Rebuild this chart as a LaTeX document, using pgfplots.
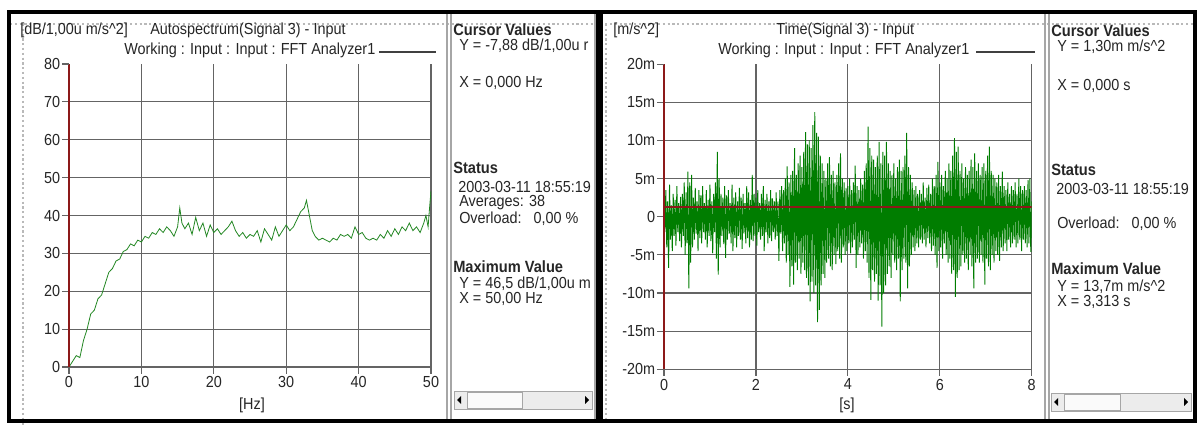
\documentclass[border=0pt]{standalone}
\usepackage{fontspec}
\setmainfont{Liberation Sans}[FakeStretch=0.9]
\usepackage{pgfplots}
\pgfplotsset{compat=1.18}
\definecolor{cur}{RGB}{140,25,25}
\definecolor{grd}{RGB}{100,100,100}
\definecolor{sig}{RGB}{0,125,0}
\definecolor{spec}{RGB}{35,135,35}
\newcommand{\tf}{\fontsize{12}{13}\selectfont}
\newcommand{\hf}{\fontsize{12.2}{14}\selectfont\bfseries}
\pgfplotsset{
  common/.style={
    scale only axis, anchor=south west,
    axis x line=bottom, axis y line=left, axis line style={-},
    x axis line style={grd, line width=1pt},
    y axis line style={cur, line width=1.3pt},
    grid=major, major grid style={grd, line width=0.9pt},
    tick align=outside, major tick length=5pt,
    tick style={grd, line width=0.9pt},
    ticklabel style={font=\tf, text=black!85},
    yticklabel style={inner sep=1.5pt},
    xticklabel style={inner sep=2pt},
    /pgf/number format/assume math mode=true,
    extra y tick style={grid=none},
  }
}
\begin{document}
\begin{tikzpicture}
\useasboundingbox (0,0) rectangle (900pt,-320.25pt);
\begin{scope}[x=0.75pt,y=-0.75pt]
  \fill[white] (0,0) rectangle (1200,427);
  \draw[gray!55, dotted, line width=1.6pt] (10,24) -- (1195,24);
  \draw[gray!55, dotted, line width=1.6pt] (23,24) -- (23,427);
  \draw[gray!55, dotted, line width=1.6pt] (606,24) -- (606,420);
  \draw[gray!70, line width=1pt] (447,13) -- (447,420);
  \draw[gray!70, line width=1pt] (451,13) -- (451,420);
  \draw[gray!70, line width=1pt] (595,13) -- (595,420);
  \draw[gray!70, line width=1pt] (1045,13) -- (1045,420);
  \draw[gray!70, line width=1pt] (1049,13) -- (1049,420);
  \draw[black, line width=2.6pt] (9,12) rectangle (598,421);
  \draw[black, line width=2.6pt] (601,12) rectangle (1195,421);
\end{scope}

% ---------------- left: autospectrum ----------------
\begin{axis}[common,
  at={(51.75pt,-275.25pt)}, width=271.5pt, height=227.25pt,
  xmin=0, xmax=50, ymin=0, ymax=80,
  xtick={0,10,...,50}, ytick={0,10,...,70}, extra y ticks={80},
]
\addplot[spec, line width=0.6pt] coordinates {
(0,0) (0.5,1.5) (1,3) (1.5,2.5) (2,7) (2.5,10) (3,14) (3.5,15) (4,18) (4.5,19)
(5,22) (5.5,25) (6,26) (6.5,28) (7,28.5) (7.5,30.5) (8,31) (8.5,32.5) (9,32) (9.5,33.5)
(10,33) (10.5,34.5) (11,34) (11.5,35.5) (12,35) (12.5,36.5) (13,35.5) (13.5,37) (14,36) (14.5,34.5)
(15,37) (15.3,42) (15.6,38) (16,36.5) (16.5,38) (17,35) (17.5,39.5) (18,36) (18.5,38) (19,34.5)
(19.5,37.5) (20,35.5) (20.5,36.5) (21,35) (21.5,36) (22,37) (22.5,38.5) (23,36) (23.5,34.5) (24,35.5)
(24.5,34) (25,35) (25.5,34.5) (26,36) (26.5,33) (27,36.5) (27.5,35) (28,33.5) (28.5,37) (29,34.5)
(29.5,36) (30,37.5) (30.5,36) (31,37) (31.5,39) (32,41) (32.5,42) (32.8,44) (33.2,40) (33.6,36)
(34,34.5) (34.5,33.5) (35,34) (35.5,33.5) (36,33) (36.5,34) (37,33.5) (37.5,35) (38,34.5) (38.5,35)
(39,34) (39.5,37) (40,35) (40.5,35.5) (41,34) (41.5,33.5) (42,34) (42.5,33.5) (43,35) (43.5,34)
(44,36) (44.5,34.5) (45,36.5) (45.5,35) (46,37) (46.5,36) (47,38) (47.5,36) (48,37) (48.5,35.5)
(49,38) (49.3,40) (49.6,37) (49.8,42) (50,46.5)
};
\draw[cur, line width=1.3pt] (axis cs:0,0) -- (axis cs:0,80);
\end{axis}

% ---------------- right: time signal ----------------
\begin{axis}[common,
  at={(498pt,-276.975pt)}, width=275.775pt, height=228.83pt,
  xmin=0, xmax=8, ymin=-20, ymax=20,
  xtick={0,2,...,8}, ytick={-20,-15,...,15},
  yticklabels={-20m,-15m,-10m,-5m,0,5m,10m,15m},
  extra y ticks={20}, extra y tick labels={20m},
]
\addplot[sig, line width=0.7pt, line join=bevel] table[row sep=\\, header=false, x expr=\coordindex*0.02, y index=0] {
2.5\\ -2.0\\ 3.5\\ -4.0\\ 2.0\\ -6.7\\ 4.2\\ -3.0\\ 1.5\\ -4.5\\ 3.0\\ -2.5\\ 2.2\\ -3.8\\ 4.0\\ -2.0\\ 1.8\\ -3.2\\ 2.6\\ -4.0\\
3.0\\ -2.5\\ 4.5\\ -5.0\\ 3.2\\ -3.5\\ 5.9\\ -9.4\\ 4.5\\ -6.0\\ 5.5\\ -4.0\\ 2.5\\ -3.0\\ 3.8\\ -2.2\\ 2.0\\ -4.5\\ 3.5\\ -2.8\\
2.8\\ -3.5\\ 4.0\\ -2.0\\ 1.8\\ -3.0\\ 3.5\\ -4.0\\ 2.2\\ -2.5\\ 4.2\\ -3.2\\ 2.0\\ -4.8\\ 3.0\\ -2.0\\ 4.5\\ -5.5\\ 8.5\\ -7.6\\
5.0\\ -4.0\\ 3.0\\ -2.5\\ 2.5\\ -3.6\\ 4.0\\ -5.4\\ 2.8\\ -3.0\\ 3.5\\ -2.2\\ 1.8\\ -3.5\\ 4.2\\ -4.5\\ 2.5\\ -2.8\\ 3.2\\ -4.0\\
2.0\\ -2.5\\ 3.8\\ -3.0\\ 2.5\\ -4.2\\ 3.0\\ -2.2\\ 1.8\\ -3.5\\ 4.0\\ -2.8\\ 3.2\\ -4.0\\ 2.2\\ -3.0\\ 5.5\\ -3.2\\ 3.0\\ -2.5\\
2.5\\ -3.8\\ 3.5\\ -2.0\\ 1.8\\ -3.0\\ 3.0\\ -2.5\\ 4.0\\ -4.5\\ 2.2\\ -2.0\\ 3.0\\ -3.5\\ 2.0\\ -2.8\\ 3.5\\ -3.2\\ 2.4\\ -2.0\\
2.0\\ -3.0\\ 3.2\\ -2.5\\ 2.0\\ -5.8\\ 3.5\\ -2.2\\ 4.0\\ -4.5\\ 3.5\\ -3.5\\ 5.0\\ -6.0\\ 6.6\\ -5.0\\ 4.5\\ -9.2\\ 5.5\\ -6.5\\
6.0\\ -8.9\\ 9.0\\ -6.0\\ 5.5\\ -7.0\\ 7.0\\ -5.5\\ 8.0\\ -7.5\\ 6.5\\ -6.0\\ 8.5\\ -7.0\\ 11.1\\ -8.0\\ 9.5\\ -9.0\\ 10.0\\ -11.1\\
9.0\\ -8.5\\ 12.0\\ -10.0\\ 13.7\\ -9.0\\ 11.0\\ -13.8\\ 10.5\\ -12.2\\ 8.0\\ -9.0\\ 7.0\\ -7.5\\ 6.0\\ -8.0\\ 5.0\\ -6.0\\ 7.0\\ -5.5\\
7.8\\ -6.5\\ 5.5\\ -7.0\\ 6.0\\ -5.0\\ 4.5\\ -6.2\\ 5.5\\ -4.5\\ 7.0\\ -5.5\\ 8.3\\ -6.0\\ 5.0\\ -4.0\\ 4.5\\ -5.0\\ 3.8\\ -4.5\\
4.0\\ -3.5\\ 5.0\\ -4.8\\ 3.5\\ -4.0\\ 4.5\\ -3.0\\ 6.7\\ -6.7\\ 4.0\\ -5.0\\ 3.5\\ -4.0\\ 5.0\\ -3.5\\ 4.2\\ -5.5\\ 6.0\\ -4.5\\
7.0\\ -6.0\\ 11.8\\ -8.0\\ 9.0\\ -10.9\\ 8.0\\ -7.0\\ 7.5\\ -8.5\\ 6.5\\ -7.5\\ 8.0\\ -11.0\\ 9.8\\ -9.0\\ 7.0\\ -14.4\\ 8.5\\ -10.0\\
8.0\\ -9.0\\ 9.8\\ -7.5\\ 7.0\\ -6.5\\ 6.0\\ -8.0\\ 5.5\\ -5.0\\ 7.0\\ -6.0\\ 5.0\\ -7.0\\ 6.5\\ -5.5\\ 7.5\\ -11.1\\ 6.0\\ -7.0\\
6.5\\ -5.5\\ 8.0\\ -6.0\\ 11.0\\ -9.4\\ 6.5\\ -6.5\\ 5.5\\ -5.0\\ 4.5\\ -4.0\\ 3.5\\ -4.5\\ 4.0\\ -3.5\\ 3.0\\ -4.0\\ 3.5\\ -3.0\\
3.0\\ -3.5\\ 4.5\\ -3.0\\ 2.5\\ -4.0\\ 3.8\\ -2.8\\ 4.2\\ -3.5\\ 3.0\\ -4.5\\ 5.0\\ -3.8\\ 4.0\\ -5.0\\ 5.5\\ -6.7\\ 7.2\\ -4.5\\
4.5\\ -4.0\\ 5.5\\ -5.5\\ 4.0\\ -3.5\\ 6.0\\ -5.0\\ 5.0\\ -6.0\\ 7.0\\ -5.5\\ 6.0\\ -7.5\\ 8.0\\ -7.0\\ 10.3\\ -10.5\\ 8.5\\ -8.0\\
9.2\\ -7.0\\ 6.0\\ -6.5\\ 7.0\\ -5.0\\ 5.0\\ -6.0\\ 6.5\\ -5.5\\ 5.5\\ -7.0\\ 6.0\\ -5.0\\ 7.5\\ -6.5\\ 6.5\\ -9.4\\ 8.3\\ -6.0\\
6.0\\ -5.5\\ 7.0\\ -6.0\\ 5.5\\ -5.0\\ 6.5\\ -6.0\\ 7.0\\ -8.9\\ 6.0\\ -5.5\\ 8.0\\ -6.5\\ 9.2\\ -7.0\\ 6.0\\ -5.0\\ 5.5\\ -6.0\\
5.0\\ -4.5\\ 4.5\\ -5.0\\ 5.5\\ -5.8\\ 4.0\\ -4.0\\ 5.9\\ -4.5\\ 4.0\\ -3.5\\ 3.5\\ -4.5\\ 4.5\\ -3.0\\ 3.0\\ -4.0\\ 4.0\\ -3.5\\
3.5\\ -3.0\\ 4.5\\ -4.0\\ 3.0\\ -3.5\\ 5.0\\ -3.0\\ 4.0\\ -4.5\\ 3.5\\ -3.0\\ 4.0\\ -3.5\\ 3.5\\ -4.0\\ 4.8\\ -3.5\\ 5.0\\ -4.6\\
2.0\\
};
\draw[cur, line width=1.1pt] (axis cs:0,1.3) -- (axis cs:8,1.3);
\draw[cur, line width=1.3pt] (axis cs:0,-20) -- (axis cs:0,20);
\end{axis}

% ---------------- texts and panels ----------------
\begin{scope}[x=0.75pt,y=-0.75pt, every node/.style={inner sep=0pt, anchor=west, font=\tf, text=black!85}]
  % left chart header
  \node at (20,30) {[dB/1,00u m/s\textasciicircum 2]};
  \node at (150,30) {Autospectrum(Signal 3) - Input};
  \node at (124,50) {Working : Input : Input : FFT Analyzer1};
  \draw[black!75, line width=0.8pt] (379,52) -- (436,52);
  \node[anchor=center] at (252,405) {[Hz]};
  % left cursor panel
  \node[font=\hf] at (453,30) {Cursor Values};
  \node at (459,46) {Y = -7,88 dB/1,00u r};
  \node at (459,83) {X = 0,000 Hz};
  \node[font=\hf] at (453,168) {Status};
  \node at (458,187) {2003-03-11\ 18:55:19};
  \node at (459,203) {Averages: 38};
  \node at (459,219) {Overload:\ \ \ 0,00 \%};
  \node[font=\hf] at (453,267) {Maximum Value};
  \node at (459,284) {Y = 46,5 dB/1,00u m};
  \node at (459,299) {X = 50,00 Hz};
  \draw[gray!70, fill=gray!15] (454,391) rectangle (592,409);
  \draw[gray!70, fill=gray!4] (467,392) rectangle (522,408);
  \fill[black] (457,400) -- (461,396) -- (461,404) -- cycle;
  \fill[black] (589,400) -- (585,396) -- (585,404) -- cycle;
  % right chart header
  \node at (613,30) {[m/s\textasciicircum 2]};
  \node at (776,30) {Time(Signal 3) - Input};
  \node at (718,50) {Working : Input : Input : FFT Analyzer1};
  \draw[black!75, line width=0.8pt] (976,52) -- (1035,52);
  \node[anchor=center] at (847,405) {[s]};
  % right cursor panel
  \node[font=\hf] at (1051,31) {Cursor Values};
  \node at (1057,47) {Y = 1,30m m/s\textasciicircum 2};
  \node at (1057,86) {X = 0,000 s};
  \node[font=\hf] at (1051,170) {Status};
  \node at (1056,189) {2003-03-11\ 18:55:19};
  \node at (1057,224) {Overload:\ \ \ 0,00 \%};
  \node[font=\hf] at (1051,269) {Maximum Value};
  \node at (1057,287) {Y = 13,7m m/s\textasciicircum 2};
  \node at (1057,302) {X = 3,313 s};
  \draw[gray!70, fill=gray!15] (1051,393) rectangle (1191,411);
  \draw[gray!70, fill=gray!4] (1064,394) rectangle (1120,410);
  \fill[black] (1054,402) -- (1058,398) -- (1058,406) -- cycle;
  \fill[black] (1188,402) -- (1184,398) -- (1184,406) -- cycle;
\end{scope}
\end{tikzpicture}
\end{document}
